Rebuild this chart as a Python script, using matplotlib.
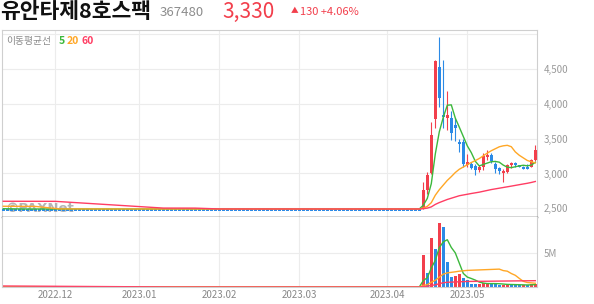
import numpy as np
import pandas as pd
import matplotlib
matplotlib.use('Agg')
import matplotlib.pyplot as plt

plt.rcParams['font.family'] = ['Noto Sans CJK KR', 'DejaVu Sans']

# ---- data ----
holidays = ['2022-12-30', '2023-01-23', '2023-01-24', '2023-03-01', '2023-05-01', '2023-05-05']
N_FLAT = 105

flat_open = [2495] * N_FLAT
flat_high = [2495] * N_FLAT
flat_low = [2490] * N_FLAT
flat_close = [2490] * N_FLAT
flat_volume = [0.0] * N_FLAT

act_open = [2495, 2760, 3000, 3780, 4530, 3840, 3790, 3790, 3690, 3455, 3455, 3120, 3140, 3105, 3050,
            3100, 3240, 3262, 3140, 3080, 3020, 3020, 3120, 3150, 3125, 3100, 3090, 3095, 3190]
act_high = [2880, 3020, 3740, 4630, 4960, 4630, 4180, 3890, 3790, 3500, 3500, 3280, 3160, 3130, 3120,
            3290, 3330, 3290, 3160, 3100, 3060, 3140, 3170, 3160, 3125, 3110, 3130, 3210, 3410]
act_low = [2490, 2700, 2990, 3650, 3950, 3650, 3620, 3480, 3460, 3310, 3100, 3090, 3060, 2975, 3020,
           3050, 3200, 3150, 3000, 2990, 2880, 3000, 3080, 3100, 3090, 3060, 3060, 3090, 3180]
act_close = [2760, 2980, 3550, 4620, 4080, 3810, 3840, 3575, 3670, 3430, 3140, 3170, 3085, 3050, 3095,
             3250, 3270, 3180, 3070, 3040, 3040, 3120, 3150, 3130, 3105, 3085, 3080, 3200, 3330]
act_volume = [4.7, 2.1, 7.2, 5.6, 9.4, 8.9, 3.7, 1.5, 1.6, 1.9, 1.3, 1.0, 0.45, 0.42, 0.44,
              0.6, 0.62, 0.45, 0.38, 0.35, 0.36, 0.38, 0.35, 0.3, 0.28, 0.3, 0.27, 0.45, 0.5]  # million

# closes / volumes before the visible window (only feed the moving averages)
prev_close = [2495] * 13 + [2705] * 27 + [2495] * 8 + [2610] * 6 + [2495] * 5
prev_volume = [0.23] * 39 + [0.0] * 20

ma_windows = [5, 20, 60]
ma_colors = ['#3cb83c', '#ffa726', '#ff3d63']

o = np.array(flat_open + act_open, float)
h = np.array(flat_high + act_high, float)
l = np.array(flat_low + act_low, float)
c = np.array(flat_close + act_close, float)
v = np.array(flat_volume + act_volume, float)
n = len(c)
x = np.arange(n)

dates = pd.bdate_range('2022-11-14', '2023-05-26', freq='C', holidays=holidays)[:n]
month_first = [i for i in range(1, n) if dates[i].month != dates[i - 1].month]
month_lbl = [dates[i].strftime('%Y.%m') for i in month_first]

RED = '#f23f4c'
BLUE = '#2b8ae6'
GRID = '#ececec'
EDGE = '#cfcfcf'

W, H = 594, 304
fig = plt.figure(figsize=(W / 100, H / 100), dpi=100)


def box(left, top, right, bottom):
    return [left / W, 1 - bottom / H, (right - left) / W, (bottom - top) / H]


ax = fig.add_axes(box(2, 30, 537, 217))
axv = fig.add_axes(box(2, 217, 537, 287), sharex=ax)

# candles (tiny bodies get a minimum height, hanging down from the top)
up = c >= o
col = np.where(up, RED, BLUE)
body_top = np.maximum(o, c)
body_h = np.maximum(np.abs(c - o), 30)
ax.vlines(x, l, h, colors=col, lw=0.8, zorder=3)
ax.bar(x, body_h, bottom=body_top - body_h, width=0.68, color=col, lw=0, zorder=3)

# moving averages (60 drawn last, on top)
close_all = pd.Series(prev_close + list(c))
vol_all = pd.Series(prev_volume + list(v))
k = len(prev_close)
for w, mc in zip(ma_windows, ma_colors):
    ax.plot(x, close_all.rolling(w, min_periods=1).mean().iloc[k:].values, color=mc, lw=1.0, zorder=4)
    axv.plot(x, vol_all.rolling(w, min_periods=1).mean().iloc[k:].values, color=mc, lw=1.0, zorder=2)

# volume bars: red when volume rose versus previous day
vcol = [RED] + [RED if v[i] >= v[i - 1] else BLUE for i in range(1, n)]
axv.bar(x, v, width=0.7, color=vcol, lw=0, zorder=1.5)

ax.set_xlim(-0.325, n - 1 + 0.425)
ax.set_ylim(2375, 5060)
axv.set_ylim(0, 10.3)

yt = [2500, 3000, 3500, 4000, 4500, 5000]
ax.set_yticks(yt)
ax.set_yticklabels([f'{t:,}' if t < 5000 else '' for t in yt])
axv.set_yticks([5])
axv.set_yticklabels(['5M'])
axv.set_xticks(month_first)
axv.set_xticklabels(month_lbl)

for a in (ax, axv):
    a.yaxis.tick_right()
    a.grid(True, color=GRID, lw=0.8, zorder=0)
    a.set_axisbelow(True)
    a.tick_params(length=0, labelsize=7, colors='#999999', pad=5)
    for s in ('left', 'right', 'top', 'bottom'):
        a.spines[s].set_color(EDGE)
        a.spines[s].set_linewidth(0.8)
ax.tick_params(axis='x', labelbottom=False)
axv.tick_params(axis='x', pad=2, colors='#888888')
ax.spines['bottom'].set_color('#333333')
ax.spines['bottom'].set_linewidth(1.0)
axv.spines['top'].set_visible(False)

# watermark
ax.text(0.006, 0.045, '©PAXNet', transform=ax.transAxes, fontsize=9.5, fontweight='bold',
        color='#a8a8a8', alpha=0.85, ha='left', va='center', family='DejaVu Sans', zorder=2)

# header
fig.text(0 / W, 1 - 12 / H, '유안타제8호스팩', fontsize=15.5, fontweight='bold', color='#111111',
         ha='left', va='center')
fig.text(160 / W, 1 - 13 / H, '367480', fontsize=9.5, color='#8c8c8c', ha='left', va='center')
fig.text(222 / W, 1 - 12 / H, '3,330', fontsize=15, color=RED, ha='left', va='center')
fig.text(291 / W, 1 - 11.5 / H, '▲', fontsize=5.5, color=RED, ha='left', va='center')
fig.text(300 / W, 1 - 12 / H, '130 +4.06%', fontsize=8, color=RED, ha='left', va='center')

fig.text(6 / W, 1 - 41 / H, '이동평균선', fontsize=7, color='#8a8a8a', ha='left', va='center')
for xp, lbl, mc in zip([59, 67, 82], ['5', '20', '60'], ma_colors):
    fig.text(xp / W, 1 - 41 / H, lbl, fontsize=7.5, fontweight='bold', color=mc, ha='left', va='center')

fig.savefig('out.png', dpi=100)
